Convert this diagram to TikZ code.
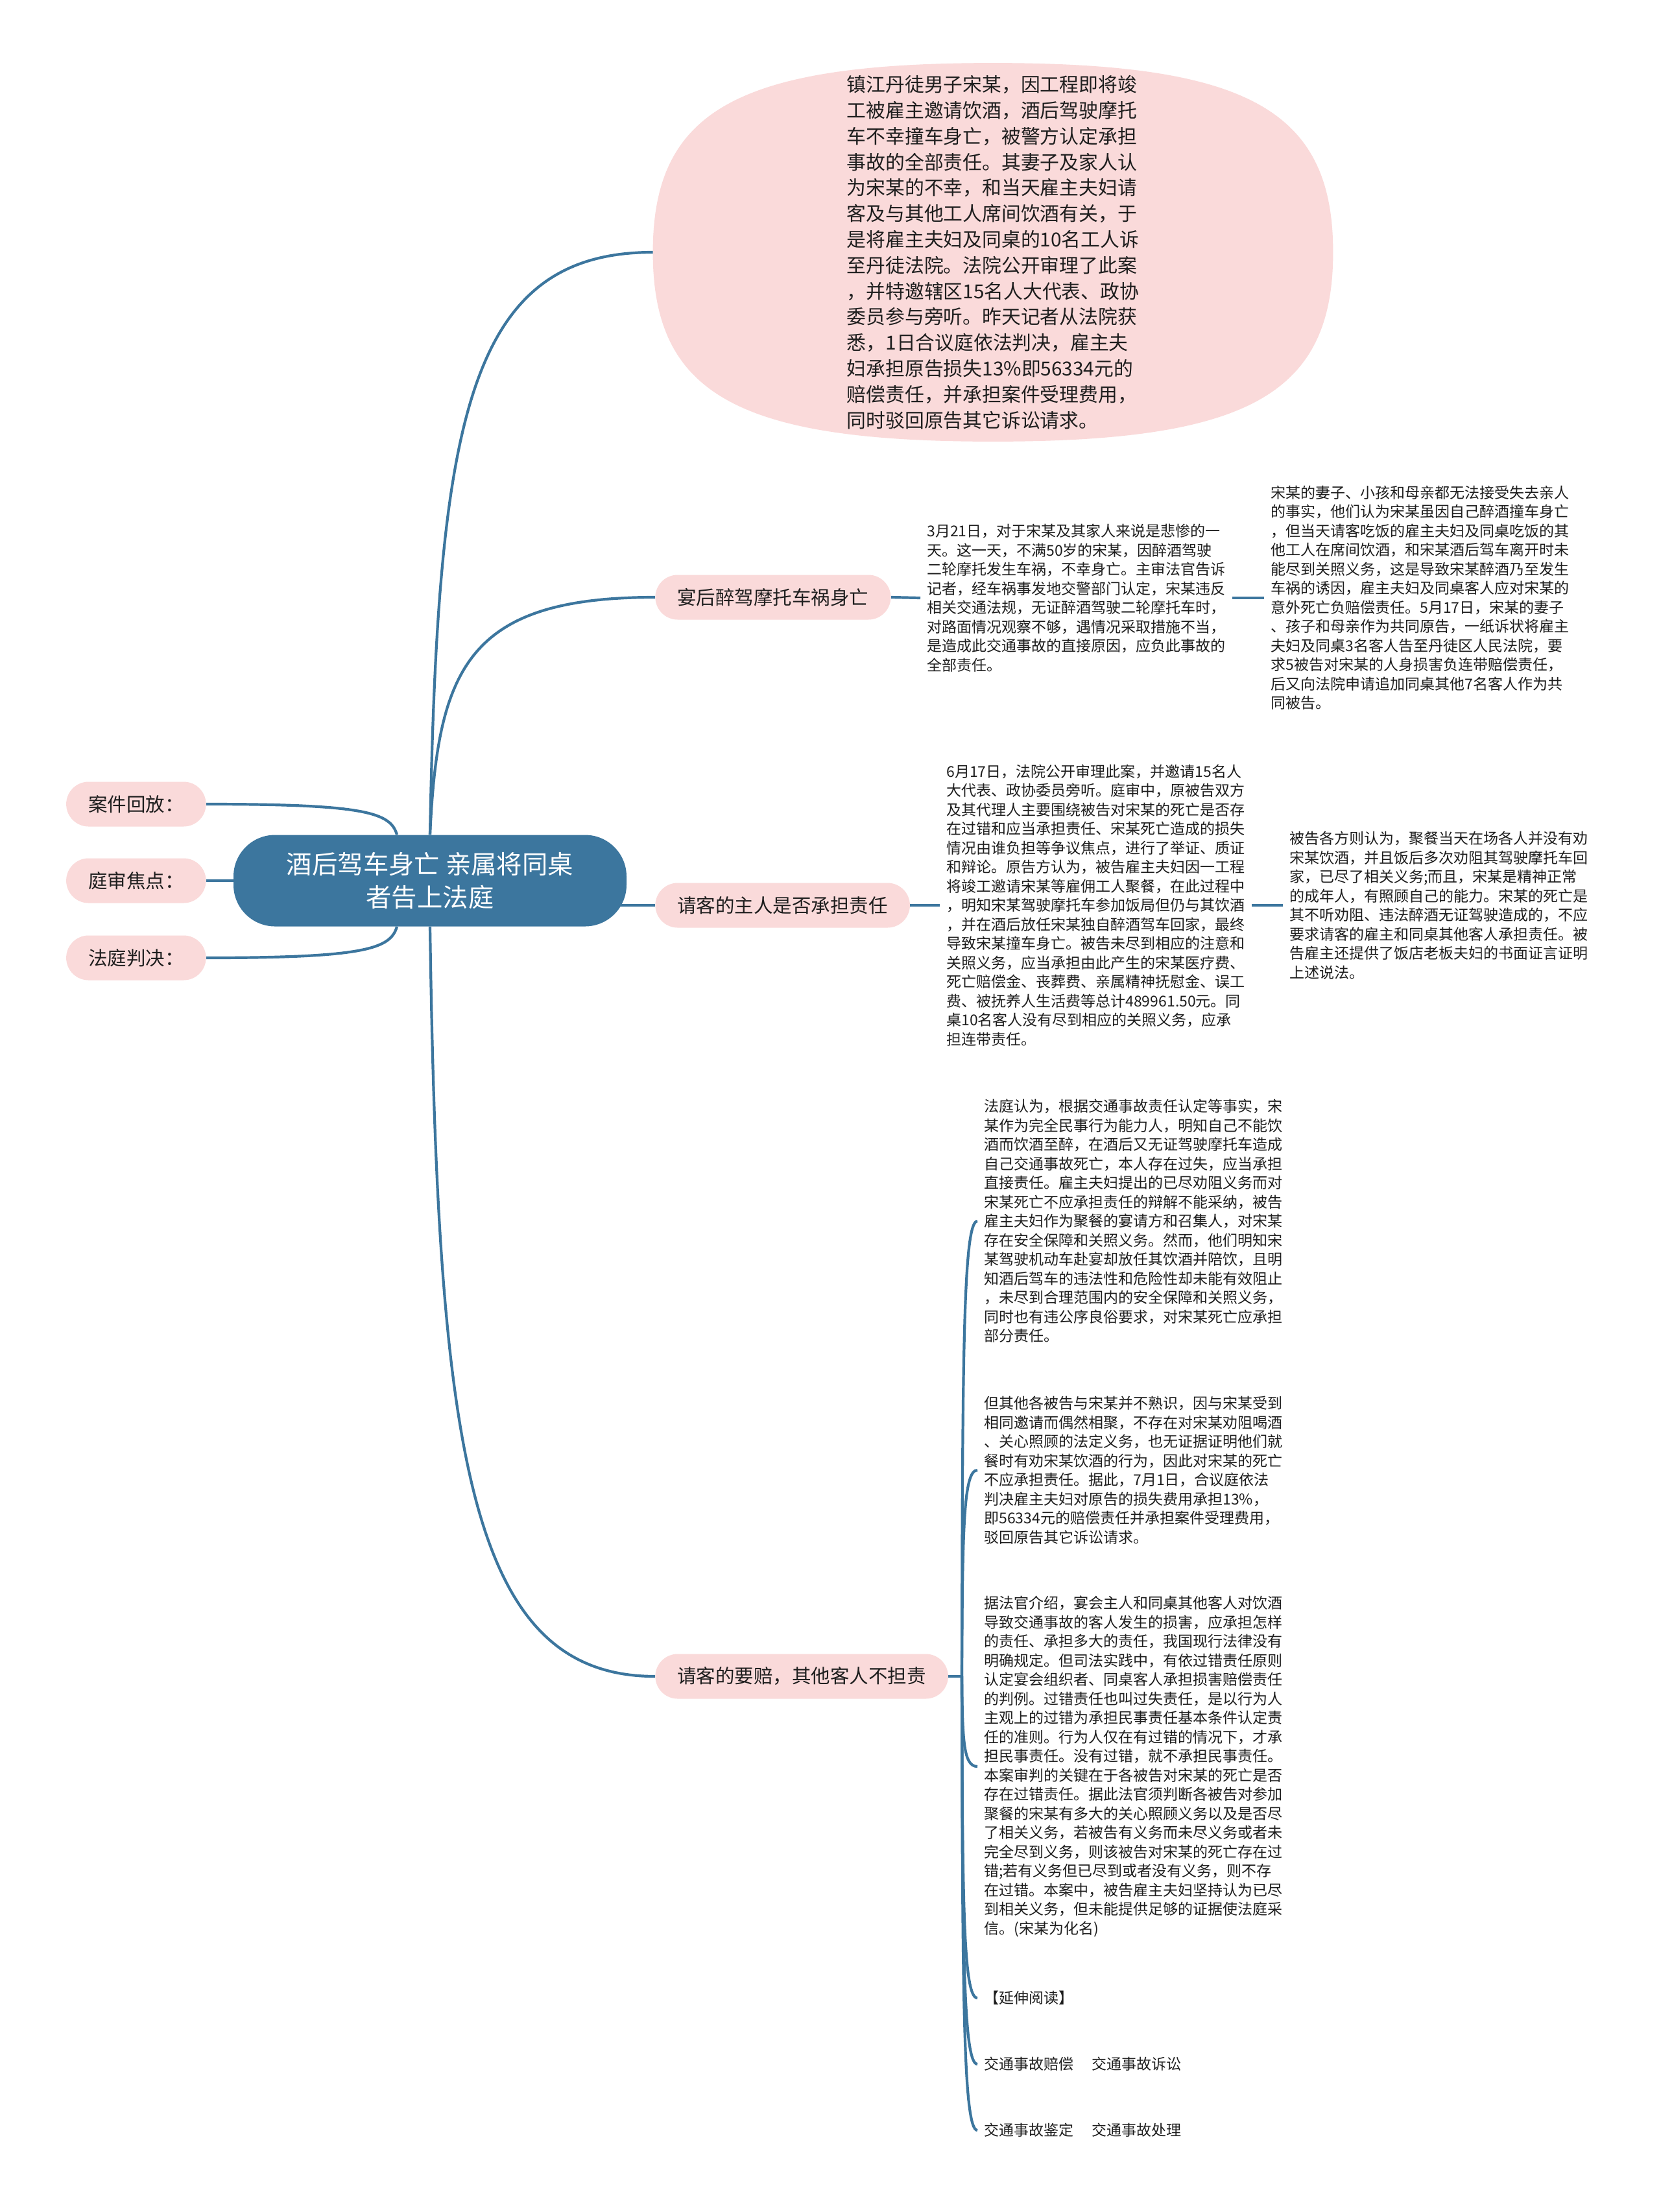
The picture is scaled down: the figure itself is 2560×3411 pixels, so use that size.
\documentclass[tikz,border=0pt]{standalone}
\usepackage{fontspec}
\setmainfont{Noto Sans CJK SC}
\usetikzlibrary{backgrounds,calc}
\definecolor{linec}{RGB}{60,118,158}
\definecolor{pinkf}{RGB}{250,218,218}
\definecolor{txt}{RGB}{30,30,30}
\begin{document}
\begin{tikzpicture}[x=0.5pt,y=-0.5pt,
  rootnode/.style={fill=linec, text=white, rounded corners=32pt, minimum width=303pt, minimum height=70.5pt, align=center, font=\fontsize{19.7pt}{25.5pt}\selectfont, inner sep=0pt},
  topic/.style={fill=pinkf, text=txt, rounded corners=17.25pt, minimum height=34.5pt, inner xsep=17pt, inner ysep=0pt, font=\fontsize{14.75pt}{18pt}\selectfont},
  bubble/.style={text=txt, minimum width=524pt, minimum height=291.5pt, align=left, font=\fontsize{14.9pt}{19.9pt}\selectfont, inner sep=0pt},
  para/.style={text=txt, align=left, inner xsep=5pt, inner ysep=0pt, font=\fontsize{11.5pt}{14.75pt}\selectfont, anchor=west},
  conn/.style={draw=linec, line width=2.1pt}]
\useasboundingbox (0,0) rectangle (2560,3411);

% root
\node[rootnode] (root) at (663,1358) {酒后驾车身亡 亲属将同桌\\者告上法庭};

% left topics
\node[topic, anchor=east] (l1) at (318,1240) {案件回放：};
\node[topic, anchor=east] (l2) at (318,1358) {庭审焦点：};
\node[topic, anchor=east] (l3) at (318,1477) {法庭判决：};

% top bubble
\node[bubble] (e) at (1531,389) {镇江丹徒男子宋某，因工程即将竣\\
工被雇主邀请饮酒，酒后驾驶摩托\\
车不幸撞车身亡，被警方认定承担\\
事故的全部责任。其妻子及家人认\\
为宋某的不幸，和当天雇主夫妇请\\
客及与其他工人席间饮酒有关，于\\
是将雇主夫妇及同桌的10名工人诉\\
至丹徒法院。法院公开审理了此案\\
，并特邀辖区15名人大代表、政协\\
委员参与旁听。昨天记者从法院获\\
悉，1日合议庭依法判决，雇主夫\\
妇承担原告损失13\%即56334元的\\
赔偿责任，并承担案件受理费用，\\
同时驳回原告其它诉讼请求。};

% branch 1
\node[topic, anchor=west] (q1) at (1010,921) {宴后醉驾摩托车祸身亡};
\node[para] (b1) at (1419,922) {3月21日，对于宋某及其家人来说是悲惨的一\\
天。这一天，不满50岁的宋某，因醉酒驾驶\\
二轮摩托发生车祸，不幸身亡。主审法官告诉\\
记者，经车祸事发地交警部门认定，宋某违反\\
相关交通法规，无证醉酒驾驶二轮摩托车时，\\
对路面情况观察不够，遇情况采取措施不当，\\
是造成此交通事故的直接原因，应负此事故的\\
全部责任。};
\node[para] (b2) at (1949,922) {宋某的妻子、小孩和母亲都无法接受失去亲人\\
的事实，他们认为宋某虽因自己醉酒撞车身亡\\
，但当天请客吃饭的雇主夫妇及同桌吃饭的其\\
他工人在席间饮酒，和宋某酒后驾车离开时未\\
能尽到关照义务，这是导致宋某醉酒乃至发生\\
车祸的诱因，雇主夫妇及同桌客人应对宋某的\\
意外死亡负赔偿责任。5月17日，宋某的妻子\\
、孩子和母亲作为共同原告，一纸诉状将雇主\\
夫妇及同桌3名客人告至丹徒区人民法院，要\\
求5被告对宋某的人身损害负连带赔偿责任，\\
后又向法院申请追加同桌其他7名客人作为共\\
同被告。};

% branch 2
\node[topic, anchor=west] (q2) at (1010,1396) {请客的主人是否承担责任};
\node[para] (b3) at (1449,1396) {6月17日，法院公开审理此案，并邀请15名人\\
大代表、政协委员旁听。庭审中，原被告双方\\
及其代理人主要围绕被告对宋某的死亡是否存\\
在过错和应当承担责任、宋某死亡造成的损失\\
情况由谁负担等争议焦点，进行了举证、质证\\
和辩论。原告方认为，被告雇主夫妇因一工程\\
将竣工邀请宋某等雇佣工人聚餐，在此过程中\\
，明知宋某驾驶摩托车参加饭局但仍与其饮酒\\
，并在酒后放任宋某独自醉酒驾车回家，最终\\
导致宋某撞车身亡。被告未尽到相应的注意和\\
关照义务，应当承担由此产生的宋某医疗费、\\
死亡赔偿金、丧葬费、亲属精神抚慰金、误工\\
费、被抚养人生活费等总计489961.50元。同\\
桌10名客人没有尽到相应的关照义务，应承\\
担连带责任。};
\node[para] (b4) at (1978,1396) {被告各方则认为，聚餐当天在场各人并没有劝\\
宋某饮酒，并且饭后多次劝阻其驾驶摩托车回\\
家，已尽了相关义务;而且，宋某是精神正常\\
的成年人，有照顾自己的能力。宋某的死亡是\\
其不听劝阻、违法醉酒无证驾驶造成的，不应\\
要求请客的雇主和同桌其他客人承担责任。被\\
告雇主还提供了饭店老板夫妇的书面证言证明\\
上述说法。};

% branch 3
\node[topic, anchor=west] (q3) at (1010,2585) {请客的要赔，其他客人不担责};
\coordinate (j) at (1483,2585);
\node[para] (b5) at (1507,1883) {法庭认为，根据交通事故责任认定等事实，宋\\
某作为完全民事行为能力人，明知自己不能饮\\
酒而饮酒至醉，在酒后又无证驾驶摩托车造成\\
自己交通事故死亡，本人存在过失，应当承担\\
直接责任。雇主夫妇提出的已尽劝阻义务而对\\
宋某死亡不应承担责任的辩解不能采纳，被告\\
雇主夫妇作为聚餐的宴请方和召集人，对宋某\\
存在安全保障和关照义务。然而，他们明知宋\\
某驾驶机动车赴宴却放任其饮酒并陪饮，且明\\
知酒后驾车的违法性和危险性却未能有效阻止\\
，未尽到合理范围内的安全保障和关照义务，\\
同时也有违公序良俗要求，对宋某死亡应承担\\
部分责任。};
\node[para] (b6) at (1507,2267) {但其他各被告与宋某并不熟识，因与宋某受到\\
相同邀请而偶然相聚，不存在对宋某劝阻喝酒\\
、关心照顾的法定义务，也无证据证明他们就\\
餐时有劝宋某饮酒的行为，因此对宋某的死亡\\
不应承担责任。据此，7月1日，合议庭依法\\
判决雇主夫妇对原告的损失费用承担13\%，\\
即56334元的赔偿责任并承担案件受理费用，\\
驳回原告其它诉讼请求。};
\node[para] (b7) at (1507,2724) {据法官介绍，宴会主人和同桌其他客人对饮酒\\
导致交通事故的客人发生的损害，应承担怎样\\
的责任、承担多大的责任，我国现行法律没有\\
明确规定。但司法实践中，有依过错责任原则\\
认定宴会组织者、同桌客人承担损害赔偿责任\\
的判例。过错责任也叫过失责任，是以行为人\\
主观上的过错为承担民事责任基本条件认定责\\
任的准则。行为人仅在有过错的情况下，才承\\
担民事责任。没有过错，就不承担民事责任。\\
本案审判的关键在于各被告对宋某的死亡是否\\
存在过错责任。据此法官须判断各被告对参加\\
聚餐的宋某有多大的关心照顾义务以及是否尽\\
了相关义务，若被告有义务而未尽义务或者未\\
完全尽到义务，则该被告对宋某的死亡存在过\\
错;若有义务但已尽到或者没有义务，则不存\\
在过错。本案中，被告雇主夫妇坚持认为已尽\\
到相关义务，但未能提供足够的证据使法庭采\\
信。(宋某为化名)};
\node[para] (b8) at (1507,3081) {【延伸阅读】};
\node[para] (b9) at (1507,3183) {交通事故赔偿\hspace{14pt}交通事故诉讼};
\node[para] (b10) at (1507,3285) {交通事故鉴定\hspace{14pt}交通事故处理};

\begin{scope}[on background layer]
\fill[white] (0,0) rectangle (2560,3411);
% bubble shape (superellipse-like)
\fill[pinkf] (e.east) .. controls +(0,-219) and +(393,0) .. (e.north)
  .. controls +(-393,0) and +(0,-219) .. (e.west)
  .. controls +(0,219) and +(-393,0) .. (e.south)
  .. controls +(393,0) and +(0,219) .. (e.east) -- cycle;
% left
\draw[conn] ([xshift=-25.5pt]root.north) .. controls +(-10,-34) and +(246,0) .. (l1.east);
\draw[conn] (root.center) -- (l2.east);
\draw[conn] ([xshift=-25.5pt]root.south) .. controls +(-10,34) and +(246,0) .. (l3.east);
% right
\draw[conn] (root.north) .. controls +(12,-638) and +(-286,0) .. (e.west);
\draw[conn] (root.north) .. controls +(12,-257) and +(-289,0) .. (q1.west);
\draw[conn] (root.center |- q2.west) -- (q2.west);
\draw[conn] (root.south) .. controls +(12,809) and +(-288,0) .. (q3.west);
% chains
\draw[conn] (q1.east) -- (b1.west);
\draw[conn] (b1.east) -- (b2.west);
\draw[conn] (q2.east) -- (b3.west);
\draw[conn] (b3.east) -- (b4.west);
\draw[conn] (q3.east) -- (j);
\draw[conn] (j) .. controls +(1,-491) and +(-22,0) .. (b5.west);
\draw[conn] (j) .. controls +(1,-223) and +(-22,0) .. (b6.west);
\draw[conn] (j) .. controls +(1,97) and +(-22,0) .. (b7.west);
\draw[conn] (j) .. controls +(1,347) and +(-22,0) .. (b8.west);
\draw[conn] (j) .. controls +(1,419) and +(-22,0) .. (b9.west);
\draw[conn] (j) .. controls +(1,490) and +(-22,0) .. (b10.west);
\end{scope}
\end{tikzpicture}
\end{document}
